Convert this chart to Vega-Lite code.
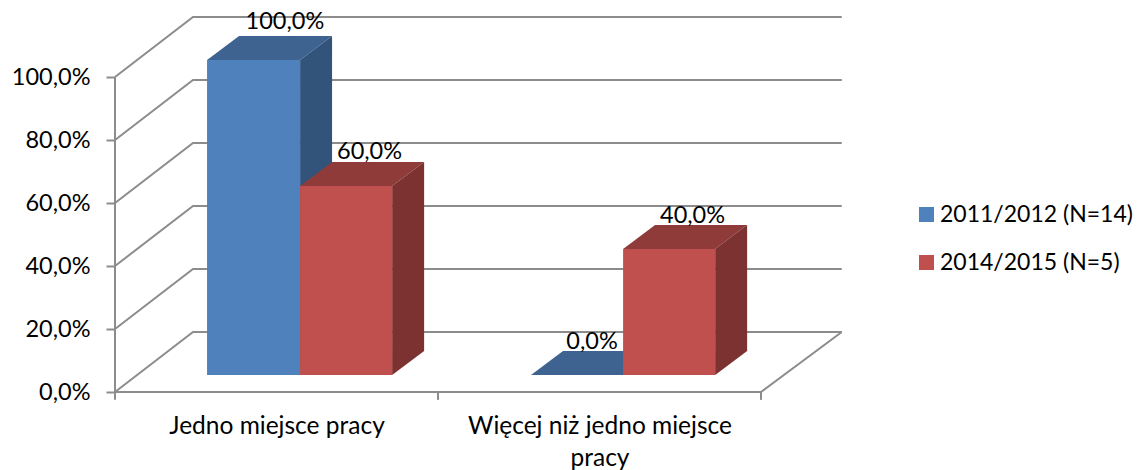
{
"$schema":"https://vega.github.io/schema/vega-lite/v6.json",
"autosize":{"type":"none"},
"padding":{"left":115,"top":10,"right":294,"bottom":78},
"width":730,"height":382,
"background":"white",
"config":{"view":{"stroke":null},"font":"Lato"},
"datasets":{
"bars":[
{"category":"Jedno miejsce pracy","series":"2011/2012 (N=14)","value":100,"x0":0.285,"x1":0.573,"label":"100,0%","labelX":0.526,"labelY":117.5},
{"category":"Jedno miejsce pracy","series":"2014/2015 (N=5)","value":60,"x0":0.573,"x1":0.858,"label":"60,0%","labelX":0.788,"labelY":76.2},
{"category":"Więcej niż jedno miejsce pracy","series":"2011/2012 (N=14)","value":0,"x0":1.288,"x1":1.573,"label":"0,0%","labelX":1.477,"labelY":15.9},
{"category":"Więcej niż jedno miejsce pracy","series":"2014/2015 (N=5)","value":40,"x0":1.573,"x1":1.858,"label":"40,0%","labelX":1.788,"labelY":55.9}
],
"walls":[
{"level":"0","v":1,"x":0,"y":0},{"level":"0","v":2,"x":0.2415,"y":19.05},{"level":"0","v":3,"x":2.25,"y":19.05},
{"level":"20","v":1,"x":0,"y":20},{"level":"20","v":2,"x":0.2415,"y":39.05},{"level":"20","v":3,"x":2.25,"y":39.05},
{"level":"40","v":1,"x":0,"y":40},{"level":"40","v":2,"x":0.2415,"y":59.05},{"level":"40","v":3,"x":2.25,"y":59.05},
{"level":"60","v":1,"x":0,"y":60},{"level":"60","v":2,"x":0.2415,"y":79.05},{"level":"60","v":3,"x":2.25,"y":79.05},
{"level":"80","v":1,"x":0,"y":80},{"level":"80","v":2,"x":0.2415,"y":99.05},{"level":"80","v":3,"x":2.25,"y":99.05},
{"level":"100","v":1,"x":0,"y":100},{"level":"100","v":2,"x":0.2415,"y":119.05},{"level":"100","v":3,"x":2.25,"y":119.05},
{"level":"axisY","v":1,"x":0,"y":0},{"level":"axisY","v":2,"x":0,"y":100},
{"level":"floor","v":1,"x":0,"y":0},{"level":"floor","v":2,"x":2,"y":0},{"level":"floor","v":3,"x":2.25,"y":19.05}
],
"ticks":[{"x":0,"y":0,"y2":-2.5},{"x":1,"y":0,"y2":-2.5},{"x":2,"y":0,"y2":-2.5}],
"faces":[
{"face":"a","shade":"blue top","v":1,"x":0.285,"y":105.4},{"face":"a","shade":"blue top","v":2,"x":0.573,"y":105.4},{"face":"a","shade":"blue top","v":3,"x":0.672,"y":113},{"face":"a","shade":"blue top","v":4,"x":0.384,"y":113},
{"face":"b","shade":"blue side","v":1,"x":0.573,"y":105.4},{"face":"b","shade":"blue side","v":2,"x":0.672,"y":113},{"face":"b","shade":"blue side","v":3,"x":0.672,"y":13},{"face":"b","shade":"blue side","v":4,"x":0.573,"y":5.4},
{"face":"c","shade":"blue top","v":1,"x":1.288,"y":5.4},{"face":"c","shade":"blue top","v":2,"x":1.573,"y":5.4},{"face":"c","shade":"blue top","v":3,"x":1.672,"y":13},{"face":"c","shade":"blue top","v":4,"x":1.387,"y":13},
{"face":"d","shade":"red top","v":1,"x":0.573,"y":65.4},{"face":"d","shade":"red top","v":2,"x":0.858,"y":65.4},{"face":"d","shade":"red top","v":3,"x":0.957,"y":73},{"face":"d","shade":"red top","v":4,"x":0.672,"y":73},
{"face":"e","shade":"red side","v":1,"x":0.858,"y":65.4},{"face":"e","shade":"red side","v":2,"x":0.957,"y":73},{"face":"e","shade":"red side","v":3,"x":0.957,"y":13},{"face":"e","shade":"red side","v":4,"x":0.858,"y":5.4},
{"face":"f","shade":"red top","v":1,"x":1.573,"y":45.4},{"face":"f","shade":"red top","v":2,"x":1.858,"y":45.4},{"face":"f","shade":"red top","v":3,"x":1.957,"y":53},{"face":"f","shade":"red top","v":4,"x":1.672,"y":53},
{"face":"g","shade":"red side","v":1,"x":1.858,"y":45.4},{"face":"g","shade":"red side","v":2,"x":1.957,"y":53},{"face":"g","shade":"red side","v":3,"x":1.957,"y":13},{"face":"g","shade":"red side","v":4,"x":1.858,"y":5.4}
]
},
"resolve":{"scale":{"fill":"independent"}},
"layer":[
{"data":{"name":"walls"},
"mark":{"type":"line","stroke":"#8C8C8C","strokeWidth":2,"strokeJoin":"miter","clip":false},
"encoding":{
"x":{"field":"x","type":"quantitative","scale":{"domain":[0,2.26],"nice":false,"zero":false},
"axis":{"values":[0.5,1.5],"title":null,"grid":false,"domain":false,"ticks":false,"labelFontSize":24.5,"labelFont":"Lato","labelColor":"#000000","labelPadding":22,"labelLineHeight":32,"labelOverlap":false,"labelBound":false,"labelFlush":false,"labelLimit":400,"labelBaseline":"top","labelExpr":"datum.value==0.5?'Jedno miejsce pracy':['Więcej niż jedno miejsce','pracy']"}},
"y":{"field":"y","type":"quantitative","scale":{"domain":[0,121.27],"nice":false,"zero":false},
"axis":{"values":[0,20,40,60,80,100],"title":null,"grid":false,"domain":false,"tickColor":"#8C8C8C","tickWidth":2,"tickSize":9,"labelFontSize":23.5,"labelFont":"Lato","labelColor":"#000000","labelPadding":16,"labelExpr":"replace(format(datum.value,'.1f'),'.',',')+'%'"}},
"detail":{"field":"level"},
"order":{"field":"v"}
}},
{"data":{"name":"ticks"},
"mark":{"type":"rule","stroke":"#8C8C8C","strokeWidth":2,"clip":false},
"encoding":{"x":{"field":"x","type":"quantitative"},"y":{"field":"y","type":"quantitative"},"y2":{"field":"y2"}}},
{"data":{"name":"faces"},
"mark":{"type":"line","strokeWidth":0,"clip":false},
"encoding":{
"x":{"field":"x","type":"quantitative"},"y":{"field":"y","type":"quantitative"},
"detail":{"field":"face"},
"order":{"field":"v"},
"fill":{"field":"shade","type":"nominal","legend":null,"scale":{"domain":["blue top","blue side","red top","red side"],"range":["#3E6390","#32537A","#8E3B39","#7C3230"]}}
}},
{"data":{"name":"bars"},
"mark":{"type":"rect","yOffset":-17,"y2Offset":-17,"clip":false},
"encoding":{
"x":{"field":"x0","type":"quantitative"},"x2":{"field":"x1"},
"y":{"field":"value","type":"quantitative"},"y2":{"datum":0},
"color":{"field":"series","type":"nominal","scale":{"domain":["2011/2012 (N=14)","2014/2015 (N=5)"],"range":["#4F81BD","#C0504D"]},
"legend":{"title":null,"orient":"none","legendX":800,"legendY":193,"symbolType":"square","symbolSize":225,"symbolStrokeWidth":0,"labelFontSize":23,"labelFont":"Lato","labelColor":"#000000","labelOffset":2,"rowPadding":24,"labelLimit":300}}
}},
{"data":{"name":"bars"},
"mark":{"type":"text","fontSize":23.5,"font":"Lato","color":"#000000","baseline":"middle","align":"center","clip":false},
"encoding":{"x":{"field":"labelX","type":"quantitative"},"y":{"field":"labelY","type":"quantitative"},"text":{"field":"label"}}}
]
}
